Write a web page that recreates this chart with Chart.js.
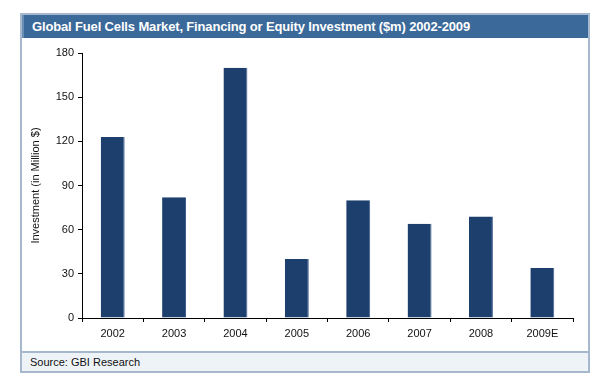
<!DOCTYPE html>
<html>
<head>
<meta charset="utf-8">
<script src="https://cdn.jsdelivr.net/npm/chart.js@4"></script>
<style>
    body { margin: 0; width: 606px; height: 388px; background: #fff; position: relative; font-family: "Liberation Sans", Arial, sans-serif; }
    #frame { position: absolute; left: 20px; top: 13px; width: 566px; height: 356px; border: 2px solid #a6b8cd; }
    #title { position: absolute; left: 0; top: 0; right: 0; height: 23px; background: #3b6999; color: #fff; font-weight: bold; font-size: 13px; line-height: 23px; padding-left: 8px; border-left: 2px solid #6a8db5; letter-spacing: -0.15px; }
    #source { position: absolute; left: 0; bottom: 0; right: 0; height: 18px; background: #eef3f8; border-top: 2px solid #a6b8cd; font-size: 11px; line-height: 18px; padding-left: 8px; color: #111; }
    #wrap { position: absolute; left: 0; top: 0; width: 606px; height: 388px; }
</style>
</head>
<body>
<div id="frame">
    <div id="title">Global Fuel Cells Market, Financing or Equity Investment ($m) 2002-2009</div>
    <div id="source">Source: GBI Research</div>
</div>
<div id="wrap"><canvas id="myChart"></canvas></div>
<script>
const years = ["2002", "2003", "2004", "2005", "2006", "2007", "2008", "2009E"];
const investment = [123, 82, 170, 40, 80, 64, 69, 34];
const yTicks = [0, 30, 60, 90, 120, 150, 180];

const ctx = document.getElementById("myChart");

const chart = new Chart(ctx, {
    type: "bar",
    data: {
        labels: years,
        datasets: [
            {
                label: "Investment",
                data: investment,
                backgroundColor: "#1d3f6e",
                borderColor: "#3f6090",
                borderWidth: { left: 0, top: 0, bottom: 0, right: 1 },
                categoryPercentage: 1,
                barPercentage: 0.39,
            },
        ],
    },
    options: {
        animation: false,
        responsive: true,
        maintainAspectRatio: false,
        layout: {
            padding: { left: 24, top: 53, right: 33, bottom: 48 },
        },
        scales: {
            x: {
                grid: {
                    drawOnChartArea: false,
                    drawTicks: true,
                    tickLength: 4,
                    color: "#000",
                },
                border: { display: true, color: "#000", width: 1 },
                ticks: {
                    color: "#111",
                    padding: 5,
                    font: { family: "Liberation Sans", size: 11 },
                    maxRotation: 0,
                },
                afterFit: function (scale) {
                    scale.height = 22;
                },
            },
            y: {
                min: yTicks[0],
                max: yTicks[yTicks.length - 1],
                ticks: {
                    stepSize: 30,
                    color: "#111",
                    padding: 4,
                    font: { family: "Liberation Sans", size: 11 },
                },
                grid: {
                    drawOnChartArea: false,
                    drawTicks: true,
                    tickLength: 4,
                    color: "#000",
                },
                border: { display: true, color: "#000", width: 1 },
                title: {
                    display: true,
                    text: "Investment (in Million $)",
                    color: "#111",
                    font: { family: "Liberation Sans", size: 11 },
                    padding: 5,
                },
                afterFit: function (scale) {
                    scale.width = 58;
                },
            },
        },
        plugins: {
            legend: { display: false },
            tooltip: { enabled: false },
        },
    },
});
</script>
</body>
</html>
